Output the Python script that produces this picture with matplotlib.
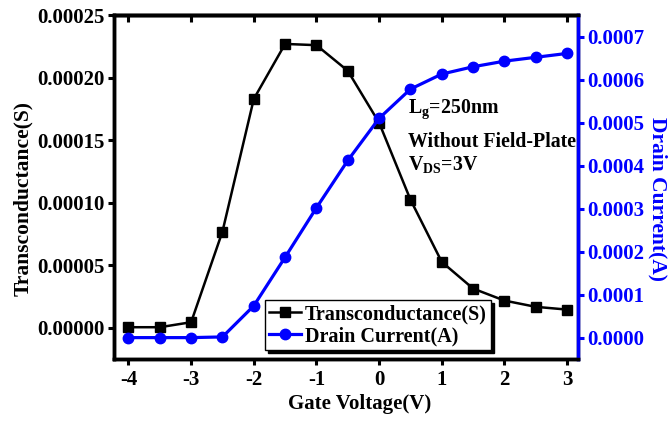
import matplotlib
matplotlib.use('Agg')
import matplotlib.pyplot as plt

# 게이트 전압 (V)
gate_voltage = [-4, -3.5, -3, -2.5, -2, -1.5, -1, -0.5, 0, 0.5, 1, 1.5, 2, 2.5, 3]
# 트랜스컨덕턴스 (S)
gm = [0.0000005, 0.0000005, 0.0000045, 0.000077, 0.000183, 0.000227, 0.000226,
      0.0002055, 0.000164, 0.0001025, 0.0000527, 0.0000314, 0.0000218, 0.0000168, 0.0000146]
# 드레인 전류 (A)
drain_current = [0.0, 0.0, 0.0, 0.0000016, 0.000074, 0.000187, 0.000302, 0.000412,
                 0.000510, 0.000578, 0.000613, 0.000630, 0.000643, 0.000652, 0.000661]

left_ticks = [0.0, 0.00005, 0.00010, 0.00015, 0.00020, 0.00025]
right_ticks = [0.0, 0.0001, 0.0002, 0.0003, 0.0004, 0.0005, 0.0006, 0.0007]

plt.rcParams['font.family'] = ['Liberation Serif', 'DejaVu Serif']
plt.rcParams['font.weight'] = 'bold'
plt.rcParams['axes.unicode_minus'] = False
plt.rcParams['mathtext.fontset'] = 'custom'
plt.rcParams['mathtext.rm'] = 'Liberation Serif:bold'
plt.rcParams['mathtext.it'] = 'Liberation Serif:bold'
plt.rcParams['mathtext.bf'] = 'Liberation Serif:bold'

fs = 15
blue = '#0000ff'

fig = plt.figure(figsize=(6.71, 4.21), dpi=100)
ax1 = fig.add_axes([0.170, 0.147, 0.691, 0.817])
ax2 = ax1.twinx()

l1, = ax1.plot(gate_voltage, gm, color='black', marker='s', markersize=7,
               linewidth=1.8, label='Transconductance(S)')
l2, = ax2.plot(gate_voltage, drain_current, color=blue, marker='o', markersize=7.5,
               linewidth=2.3, label='Drain Current(A)')

ax1.set_xlim(-4.23, 3.17)
ax1.set_ylim(-0.000025, 0.00025)
ax2.set_ylim(-0.00005, 0.00075)

ax1.set_xticks([-4, -3, -2, -1, 0, 1, 2, 3])
ax1.set_yticks(left_ticks)
ax1.set_yticklabels([f'{v:.5f}' for v in left_ticks])
ax2.set_yticks(right_ticks)
ax2.set_yticklabels([f'{v:.4f}' for v in right_ticks])

for sp in ax1.spines.values():
    sp.set_linewidth(2.5)
for sp in ax2.spines.values():
    sp.set_linewidth(2.5)
ax2.spines['right'].set_color(blue)

ax1.tick_params(axis='both', direction='out', length=4.5, width=2.2, labelsize=fs)
ax1.tick_params(axis='x', pad=3)
ax1.tick_params(axis='y', pad=2)
ax2.tick_params(axis='y', direction='out', length=4.5, width=2.2, labelsize=fs,
                colors=blue, pad=2)

# 위쪽 눈금은 안쪽으로
top = ax1.secondary_xaxis('top')
top.set_xticks([-4, -3, -2, -1, 0, 1, 2, 3])
top.tick_params(direction='in', length=5, width=2.2, labeltop=False)
top.spines['top'].set_linewidth(2.5)

ax1.set_xlabel('Gate Voltage(V)', fontsize=fs, fontweight='bold', labelpad=3)
ax1.set_ylabel('Transconductance(S)', fontsize=15.5, fontweight='bold', labelpad=3)
ax2.set_ylabel('Drain Current(A)', fontsize=15.5, fontweight='bold', color=blue,
               rotation=270, labelpad=17)
ax1.xaxis.label.set_x(0.53)
ax1.yaxis.label.set_y(0.468)
ax2.yaxis.label.set_y(0.466)

# 조건 표시
ax2.text(0.634, 0.715, 'L$_g$=250nm', transform=ax2.transAxes, fontsize=14.3,
         va='baseline')
ax2.text(0.634, 0.616, 'Without Field-Plate', transform=ax2.transAxes, fontsize=14.3,
         va='baseline')
ax2.text(0.634, 0.549, 'V$_{DS}$=3V', transform=ax2.transAxes, fontsize=14.3,
         va='baseline')

leg = ax2.legend(handles=[l1, l2], loc='lower left', bbox_to_anchor=(0.325, 0.026),
                 borderaxespad=0, fontsize=14.5, fancybox=False, edgecolor='black',
                 framealpha=1, shadow={'color': 'black', 'alpha': 1},
                 handlelength=1.6, handletextpad=0.2, labelspacing=0.1,
                 borderpad=0.2)
leg.get_frame().set_linewidth(1.0)

fig.savefig('out.png', dpi=100)
